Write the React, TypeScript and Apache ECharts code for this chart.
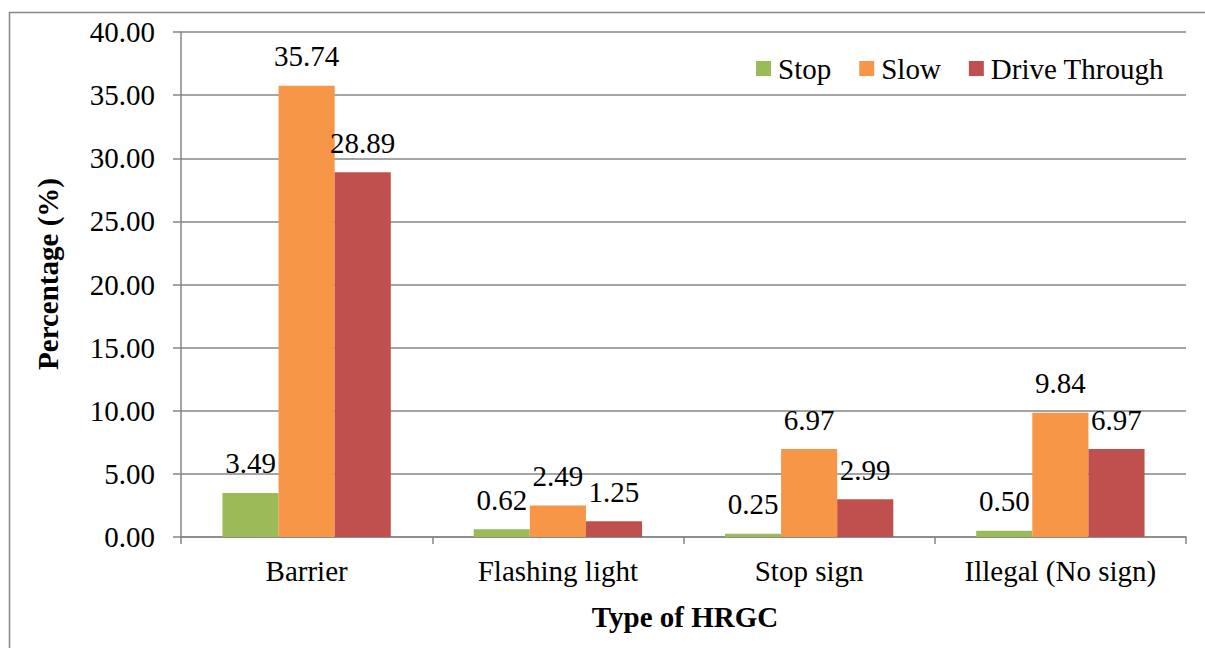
import React, { useEffect, useRef } from "react";
import * as echarts from "echarts";

const categories = ["Barrier", "Flashing light", "Stop sign", "Illegal (No sign)"];
const stopValues = [3.49, 0.62, 0.25, 0.5];
const slowValues = [35.74, 2.49, 6.97, 9.84];
const driveValues = [28.89, 1.25, 2.99, 6.97];
const seriesNames = ["Stop", "Slow", "Drive Through"];
const colors = ["#9BBB59", "#F79646", "#C0504D"];

const FONT = "Liberation Serif";
const FS = 29;

export default function App() {
  const ref = useRef<HTMLDivElement>(null);
  useEffect(() => {
    if (!ref.current) return;
    const chart = echarts.init(ref.current, null, { renderer: "svg" });
    const label = {
      show: true,
      position: "top" as const,
      distance: 15,
      fontFamily: FONT,
      fontSize: FS,
      color: "#000",
      formatter: (p: any) => Number(p.value).toFixed(2),
    };
    const data = [stopValues, slowValues, driveValues];
    chart.setOption({
      animation: false,
      backgroundColor: "#fff",
      textStyle: { fontFamily: FONT },
      grid: { left: 181, right: 19, top: 32, bottom: 111, containLabel: false },
      legend: {
        top: 49,
        right: 36,
        itemWidth: 15,
        itemHeight: 15,
        itemGap: 28,
        icon: "rect",
        textStyle: { fontFamily: FONT, fontSize: FS, color: "#000", padding: [0, 0, 0, 2] },
        data: seriesNames,
      },
      xAxis: {
        type: "category",
        data: categories,
        axisLine: { lineStyle: { color: "#868686", width: 1.5 } },
        axisTick: { show: true, length: 7, lineStyle: { color: "#868686", width: 1.5 } },
        axisLabel: { fontFamily: FONT, fontSize: FS, color: "#000", margin: 19 },
      },
      yAxis: {
        type: "value",
        min: 0,
        max: 40,
        interval: 5,
        axisLine: { show: true, lineStyle: { color: "#868686", width: 1.5 } },
        axisTick: { show: true, length: 8, lineStyle: { color: "#868686", width: 1.5 } },
        splitLine: { lineStyle: { color: "#868686", width: 1.5 } },
        axisLabel: {
          fontFamily: FONT,
          fontSize: FS,
          color: "#000",
          margin: 26,
          formatter: (v: number) => v.toFixed(2),
        },
      },
      series: seriesNames.map((name, i) => ({
        name,
        type: "bar",
        data: data[i],
        barGap: "0%",
        barCategoryGap: "33%",
        itemStyle: { color: colors[i] },
        label,
      })),
      graphic: [
        {
          type: "rect",
          shape: { x: 9.5, y: 12.5, width: 1210, height: 660 },
          style: { fill: "none", stroke: "#868686", lineWidth: 1.5 },
          silent: true,
        },
        {
          type: "text",
          x: 48,
          y: 274,
          rotation: Math.PI / 2,
          style: {
            text: "Percentage (%)",
            font: `bold ${FS}px ${FONT}`,
            fill: "#000",
            align: "center",
            verticalAlign: "middle",
          },
        },
        {
          type: "text",
          x: 685,
          y: 617,
          style: {
            text: "Type of HRGC",
            font: `bold ${FS}px ${FONT}`,
            fill: "#000",
            align: "center",
            verticalAlign: "middle",
          },
        },
      ],
    });
    return () => chart.dispose();
  }, []);
  return (
    <div
      ref={ref}
      style={{ position: "absolute", left: 0, top: 0, width: 1205, height: 648 }}
    />
  );
}
